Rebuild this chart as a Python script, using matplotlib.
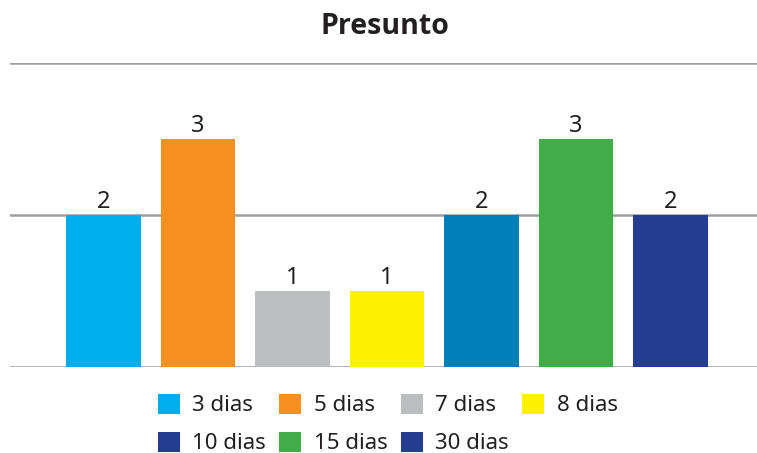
import matplotlib.pyplot as plt
from matplotlib.patches import Patch

# Dados do gráfico
categorias = ["3 dias", "5 dias", "7 dias", "8 dias", "10 dias", "15 dias", "30 dias"]
valores = [2, 3, 1, 1, 2, 3, 2]
cores_barras = ["#00AEEF", "#F7901E", "#BCBEC0", "#FFF200", "#0080B9", "#41AD49", "#253D8E"]
cores_legenda = ["#00AEEF", "#F7901E", "#BCBEC0", "#FFF200", "#253D8E", "#41AD49", "#253D8E"]
grade = [0, 2, 4]

plt.rcParams['font.family'] = ['Noto Sans', 'DejaVu Sans']

fig = plt.figure(figsize=(7.57, 4.53), dpi=100)
ax = fig.add_axes([10 / 757, 1 - 367 / 453, 1 - 10 / 757, (367 - 63) / 453])

x = list(range(len(categorias)))
for g in grade:
    ax.axhline(g, color="#9D9FA2", linewidth=1.8, zorder=1)
barras = ax.bar(x, valores, width=0.79, color=cores_barras, zorder=2)
ax.bar_label(barras, labels=[str(v) for v in valores], padding=1,
             fontsize=17, color="#231F20")

ax.set_xlim(-0.99, 6.915)
ax.set_ylim(0, 4)
ax.axis("off")

fig.text(0.509, 1 - 27 / 453, "Presunto", ha="center", va="center",
         fontsize=20.5, fontweight="bold", family=["Open Sans", "DejaVu Sans"],
         color="#231F20")

# Legenda em duas linhas, preenchida por linha
ordem = [0, 4, 1, 5, 2, 6, 3]
alcas = [Patch(facecolor=cores_legenda[i], edgecolor="none") for i in ordem]
rotulos = [categorias[i] for i in ordem]
fig.legend(alcas, rotulos, ncol=4, loc="center", bbox_to_anchor=(0.512, 1 - 424 / 453),
           frameon=False, fontsize=16, handlelength=1.0, handleheight=1.0,
           handletextpad=0.55, columnspacing=0.6, labelspacing=0.7,
           labelcolor="#231F20")

fig.savefig("out.png", dpi=100)
